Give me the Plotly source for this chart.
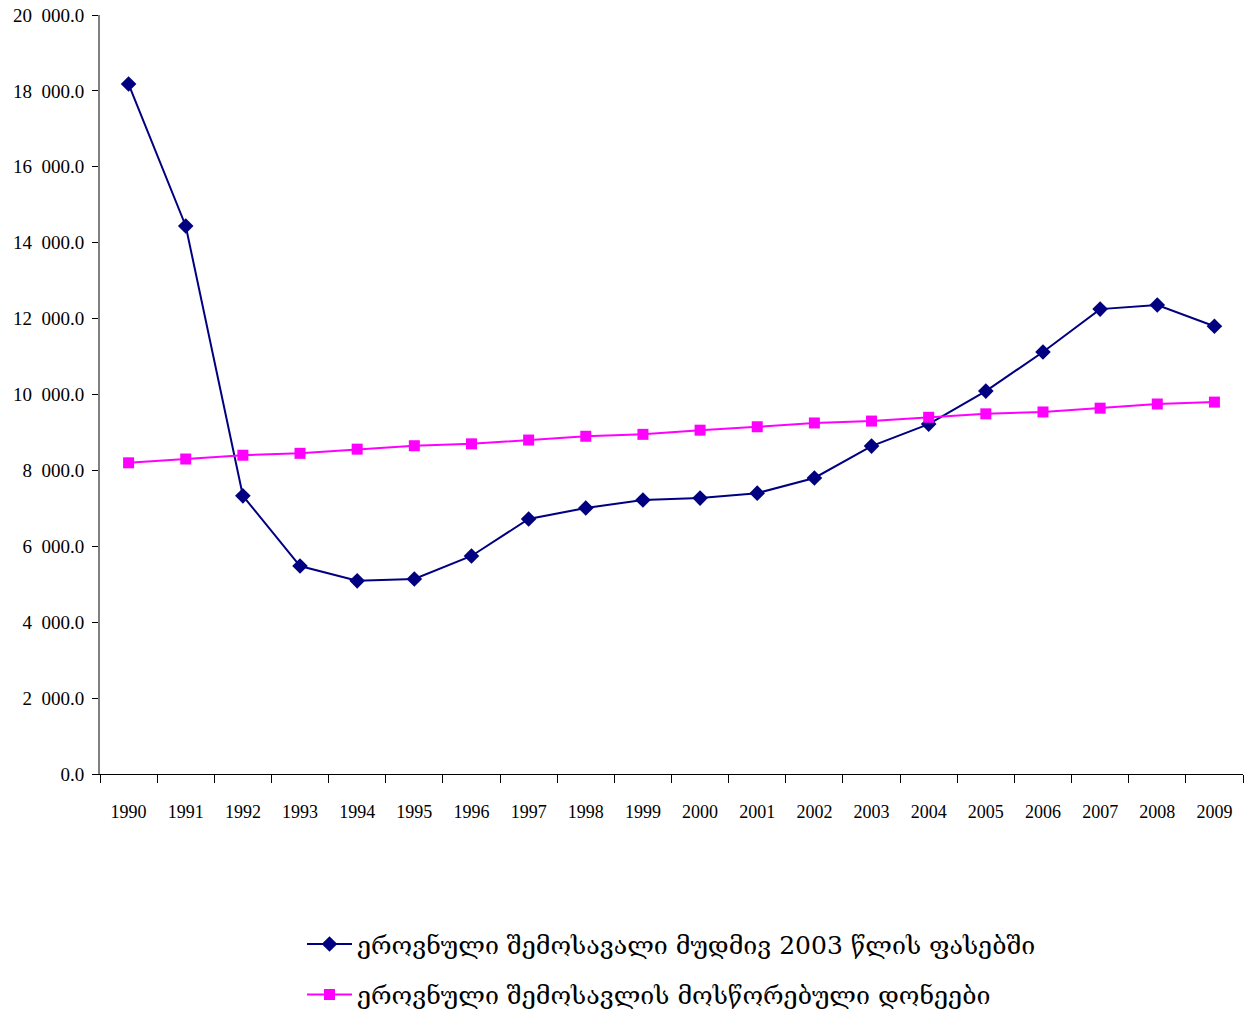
import plotly.graph_objects as go

years = [str(y) for y in range(1990, 2010)]
national_income_2003 = [18180, 14440, 7330, 5480, 5090, 5140, 5745, 6720, 7010, 7220,
                        7270, 7400, 7800, 8640, 9220, 10090, 11120, 12250, 12360, 11800]
smoothed_levels = [8200, 8300, 8400, 8450, 8560, 8650, 8700, 8800, 8900, 8950,
                   9060, 9150, 9250, 9300, 9400, 9490, 9540, 9640, 9750, 9800]
name1 = "ეროვნული შემოსავალი მუდმივ 2003 წლის ფასებში"
name2 = "ეროვნული შემოსავლის მოსწორებული დონეები"
y_ticks = list(range(0, 20001, 2000))
y_ticktext = [f"{v // 1000}\u00a0\u00a0000.0" if v >= 1000 else "0.0" for v in y_ticks]

fig = go.Figure()
fig.add_trace(go.Scatter(x=years, y=national_income_2003, name=name1, mode="lines+markers",
                         line=dict(color="#000080", width=2),
                         marker=dict(symbol="diamond", size=12, color="#000080"),
                         legendgroup="a"))
fig.add_trace(go.Scatter(x=years, y=smoothed_levels, name=name2, mode="lines+markers",
                         line=dict(color="#FF00FF", width=2),
                         marker=dict(symbol="square", size=11, color="#FF00FF"),
                         legendgroup="b"))

serif = "Liberation Serif"
fig.update_layout(
    width=1257, height=1011,
    margin=dict(l=100, r=14, t=15, b=237, autoexpand=False),
    paper_bgcolor="white", plot_bgcolor="white",
    font=dict(family=serif, color="black", size=18),
    showlegend=True,
    legend=dict(x=0.5, xanchor="center", y=-0.194, yanchor="top",
                orientation="v", traceorder="grouped", tracegroupgap=15,
                itemwidth=45,
                font=dict(family="DejaVu Serif", size=25)),
    xaxis=dict(type="category", range=[-0.5, 19.5], tickson="boundaries",
               ticks="outside", ticklen=8, tickcolor="black",
               showline=True, linecolor="black", linewidth=1.2,
               showgrid=False, zeroline=False, automargin=False,
               ticklabelstandoff=21,
               tickfont=dict(family=serif, size=18)),
    yaxis=dict(range=[0, 20000], tickvals=y_ticks, ticktext=y_ticktext,
               ticks="outside", ticklen=6, tickcolor="black",
               showline=True, linecolor="#808080", linewidth=2,
               showgrid=False, zeroline=False, automargin=False,
               ticklabelstandoff=4, ticklabeloverflow="allow",
               tickfont=dict(family=serif, size=19)),
)

fig.write_html("out.html",
               config={"displayModeBar": False},
               post_script="document.body.style.margin='0';document.body.style.overflow='hidden';")
